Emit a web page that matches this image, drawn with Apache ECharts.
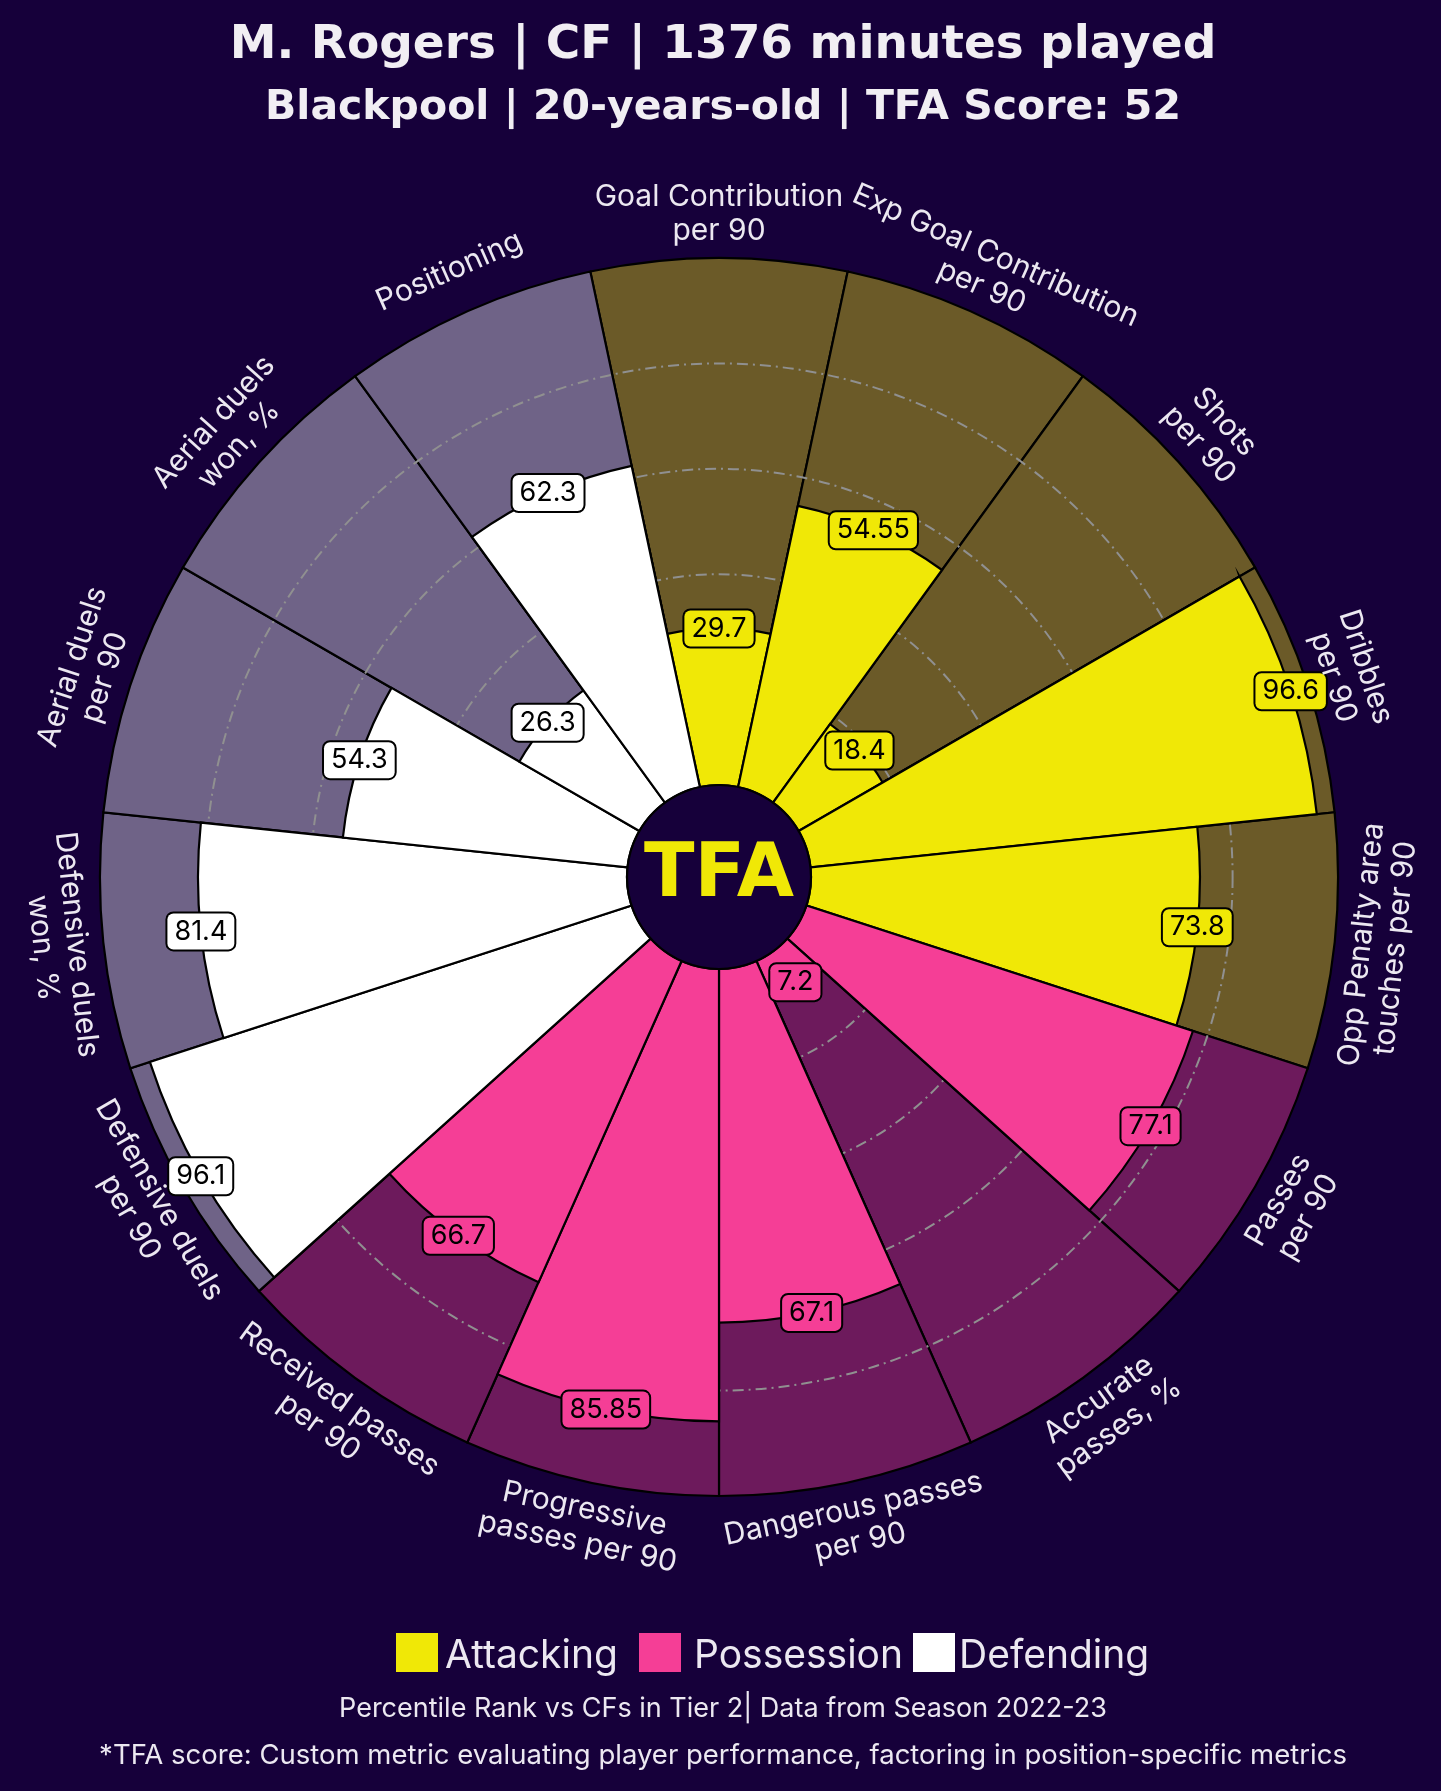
<!DOCTYPE html>
<html>
<head>
<meta charset="utf-8">
<script src="https://cdn.jsdelivr.net/npm/echarts/dist/echarts.min.js"></script>
<style>
html,body{margin:0;padding:0;background:#16003a;}
#chart{width:1441px;height:1791px;}
</style>
</head>
<body>
<div id="chart"></div>
<script>
// ---- data ----
const categories = [
  'Goal Contribution per 90', 'Exp Goal Contribution per 90', 'Shots per 90', 'Dribbles per 90',
  'Opp Penalty area touches per 90', 'Passes per 90', 'Accurate passes, %', 'Dangerous passes per 90',
  'Progressive passes per 90', 'Received passes per 90', 'Defensive duels per 90', 'Defensive duels won, %',
  'Aerial duels per 90', 'Aerial duels won, %', 'Positioning'
];
const categoryLabels = [
  'Goal Contribution\nper 90', 'Exp Goal Contribution\nper 90', 'Shots\nper 90', 'Dribbles\nper 90',
  'Opp Penalty area\ntouches per 90', 'Passes\nper 90', 'Accurate\npasses, %', 'Dangerous passes\nper 90',
  'Progressive\npasses per 90', 'Received passes\nper 90', 'Defensive duels\nper 90', 'Defensive duels\nwon, %',
  'Aerial duels\nper 90', 'Aerial duels\nwon, %', 'Positioning'
];
const values = [29.7, 54.55, 18.4, 96.6, 73.8, 77.1, 7.2, 67.1, 85.85, 66.7, 96.1, 81.4, 54.3, 26.3, 62.3];
const groupOf = [0, 0, 0, 0, 0, 1, 1, 1, 1, 1, 2, 2, 2, 2, 2];
const groupNames = ['Attacking', 'Possession', 'Defending'];
const titleText = 'M. Rogers | CF | 1376 minutes played';
const subtitleText = 'Blackpool | 20-years-old | TFA Score: 52';
const footer1 = 'Percentile Rank vs CFs in Tier 2| Data from Season 2022-23';
const footer2 = '*TFA score: Custom metric evaluating player performance, factoring in position-specific metrics';

// ---- style ----
const BG = '#16003a';
const barColors = ['#f0e806', '#f53e96', '#ffffff'];
const bgColors = ['#6b5a28', '#6d1a5c', '#6f6387'];
const TEXT = '#ece8f1';
const CX = 719, CY = 877, R0 = 92, R1 = 619;
const LABEL_R = 663;
const N = categories.length;
const STEP = 360 / N;
const START = 90 + STEP / 2;
const BODY_FONT = 'Inter, "Noto Sans", sans-serif';
const TITLE_FONT = '"DejaVu Sans", sans-serif';

const chart = echarts.init(document.getElementById('chart'), null, {renderer: 'canvas'});

const graphics = [];
// category labels
categories.forEach((c, i) => {
  let ang = 90 - i * STEP;
  const rad = ang * Math.PI / 180;
  const x = CX + LABEL_R * Math.cos(rad);
  const y = CY - LABEL_R * Math.sin(rad);
  let a = ((ang % 360) + 360) % 360;
  let rot = (a > 0 && a < 180) ? a - 90 : a + 90;
  if (rot > 180) rot -= 360;
  graphics.push({
    type: 'text', x: x, y: y, rotation: rot * Math.PI / 180, z: 50,
    style: {text: categoryLabels[i], fill: TEXT, font: '30px ' + BODY_FONT, align: 'center', verticalAlign: 'middle', lineHeight: 34}
  });
});
// centre disc & logo
graphics.push({type: 'circle', shape: {cx: CX, cy: CY, r: R0}, z: 60, style: {fill: BG, stroke: '#000', lineWidth: 2.2}});
graphics.push({type: 'text', x: CX, y: CY, z: 61, style: {text: 'TFA', fill: '#f0e806', font: 'bold 74px ' + TITLE_FONT, align: 'center', verticalAlign: 'middle'}});
// titles
graphics.push({type: 'text', x: 723, y: 46, z: 50, style: {text: titleText, fill: '#f1eef3', font: 'bold 47px ' + TITLE_FONT, align: 'center', verticalAlign: 'middle'}});
graphics.push({type: 'text', x: 723, y: 108, z: 50, style: {text: subtitleText, fill: '#f1eef3', font: 'bold 41px ' + TITLE_FONT, align: 'center', verticalAlign: 'middle'}});
// legend
const legendX = [[396, 445], [639, 694], [913, 959]];
groupNames.forEach((g, k) => {
  graphics.push({type: 'rect', shape: {x: legendX[k][0], y: 1633, width: 42, height: 39}, z: 50, style: {fill: barColors[k]}});
  graphics.push({type: 'text', x: legendX[k][1], y: 1656, z: 50, style: {text: g, fill: TEXT, font: '39px ' + BODY_FONT, align: 'left', verticalAlign: 'middle'}});
});
// footers
graphics.push({type: 'text', x: 723, y: 1709, z: 50, style: {text: footer1, fill: TEXT, font: '27px ' + BODY_FONT, align: 'center', verticalAlign: 'middle'}});
graphics.push({type: 'text', x: 723, y: 1756, z: 50, style: {text: footer2, fill: TEXT, font: '27.5px ' + BODY_FONT, align: 'center', verticalAlign: 'middle'}});

const option = {
  backgroundColor: BG,
  animation: false,
  polar: [
    {center: [CX, CY], radius: [R0, R1]},
    {center: [CX, CY], radius: [R0 + (R1 - R0) * 0.2, R0 + (R1 - R0) * 0.8]}
  ],
  angleAxis: [
    {polarIndex: 0, type: 'category', data: categories, startAngle: START, clockwise: true,
     axisLine: {show: false}, axisTick: {show: false}, axisLabel: {show: false}, splitLine: {show: false}},
    {polarIndex: 1, type: 'value', min: 0, max: 360, show: false}
  ],
  radiusAxis: [
    {polarIndex: 0, type: 'value', min: 0, max: 100, show: false},
    {polarIndex: 1, type: 'value', min: 20, max: 80, interval: 20, z: 3,
     axisLine: {show: false}, axisTick: {show: false}, axisLabel: {show: false},
     splitArea: {show: false},
     splitLine: {show: true, lineStyle: {color: '#909090', width: 2, type: [11, 5, 2, 5]}}}
  ],
  series: [
    {
      type: 'bar', coordinateSystem: 'polar', polarIndex: 0, z: 2, silent: true,
      barCategoryGap: '0%', barGap: '-100%',
      data: categories.map((c, i) => ({value: 100, itemStyle: {color: bgColors[groupOf[i]]}})),
      itemStyle: {borderColor: '#000', borderWidth: 2.2}
    },
    {
      type: 'bar', coordinateSystem: 'polar', polarIndex: 0, z: 4, silent: true,
      barCategoryGap: '0%', barGap: '-100%',
      data: values.map((v, i) => ({value: v, itemStyle: {color: barColors[groupOf[i]]}})),
      itemStyle: {borderColor: '#000', borderWidth: 2.2}
    },
    {
      type: 'scatter', coordinateSystem: 'polar', polarIndex: 0, z: 6, silent: true,
      symbol: 'circle', symbolSize: 2, itemStyle: {color: 'rgba(0,0,0,0)', opacity: 1},
      data: values.map((v, i) => ({value: [v, i], label: {backgroundColor: barColors[groupOf[i]]}})),
      label: {
        show: true, position: 'inside', formatter: p => String(p.value[0]),
        color: '#000', fontSize: 27, fontFamily: BODY_FONT, opacity: 1,
        borderColor: '#000', borderWidth: 2, borderRadius: 6, padding: [5, 7, 4, 7]
      },
      labelLayout: {hideOverlap: false}
    }
  ],
  graphic: graphics
};
chart.setOption(option);
</script>
</body>
</html>
